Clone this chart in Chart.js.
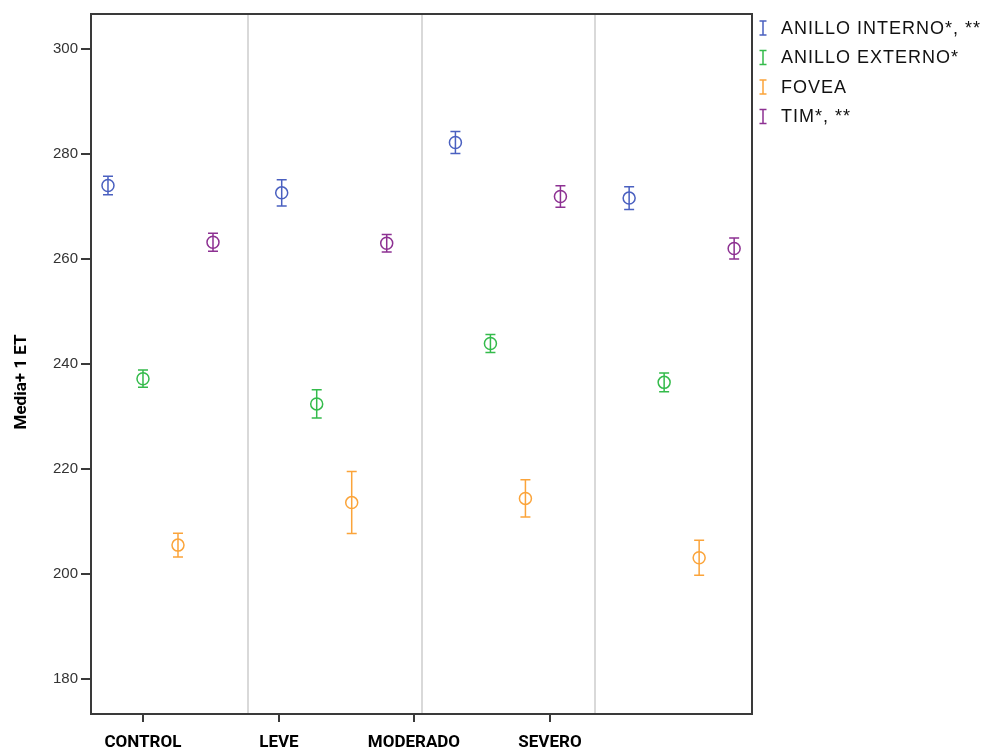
<!DOCTYPE html>
<html>
<head>
<meta charset="utf-8">
<script src="https://cdn.jsdelivr.net/npm/chart.js@4.4.1/dist/chart.umd.min.js"></script>
<style>
html,body{margin:0;padding:0;background:#fff;}
#wrap{width:997px;height:753px;}
</style>
</head>
<body>
<div id="wrap"><canvas id="c" width="997" height="753"></canvas></div>
<script>
const categories = ["CONTROL", "LEVE", "MODERADO", "SEVERO"];
const seriesNames = ["ANILLO INTERNO*, **", "ANILLO EXTERNO*", "FOVEA", "TIM*, **"];
const seriesColors = ["#4a60c0", "#34bb4b", "#fba43a", "#8d3192"];
const anilloInternoMean = [274.0, 272.6, 282.2, 271.6];
const anilloInternoSE   = [1.75, 2.5, 2.1, 2.15];
const anilloExternoMean = [237.2, 232.4, 243.9, 236.5];
const anilloExternoSE   = [1.65, 2.7, 1.7, 1.8];
const foveaMean = [205.5, 213.6, 214.4, 203.1];
const foveaSE   = [2.25, 5.9, 3.55, 3.35];
const timMean = [263.2, 263.0, 271.9, 262.0];
const timSE   = [1.7, 1.65, 2.05, 2.0];
const yTicks = [180, 200, 220, 240, 260, 280, 300];

const means = [anilloInternoMean, anilloExternoMean, foveaMean, timMean];
const ses = [anilloInternoSE, anilloExternoSE, foveaSE, timSE];

// layout (cluster offsets, axis range, label positions)
const clusterStep = 0.2015;
const xMin = -0.404, xMax = 3.401;
const labelPos = [-0.105, 0.678, 1.455, 2.238];
const condBold = 'Roboto, "Liberation Sans", Arial, sans-serif';

const datasets = seriesNames.map((name, j) => ({
  label: name,
  data: categories.map((c, i) => ({x: i + (j - 1.5) * clusterStep - 0.004, y: means[j][i], se: ses[j][i]})),
  borderColor: seriesColors[j],
  backgroundColor: 'rgba(0,0,0,0)',
  pointRadius: 6,
  pointHoverRadius: 6,
  pointBorderWidth: 1.5,
  showLine: false
}));

const decor = {
  id: 'decor',
  beforeDatasetsDraw(chart) {
    const {ctx, chartArea: a, scales: {x}} = chart;
    ctx.save();
    ctx.strokeStyle = '#d9d9d9';
    ctx.lineWidth = 2;
    for (let i = 0; i < categories.length - 1; i++) {
      const px = Math.round(x.getPixelForValue(i + 0.5));
      ctx.beginPath(); ctx.moveTo(px, a.top); ctx.lineTo(px, a.bottom); ctx.stroke();
    }
    ctx.restore();
  },
  afterDatasetsDraw(chart) {
    const {ctx, scales: {x, y}} = chart;
    ctx.save();
    chart.data.datasets.forEach(ds => {
      ctx.strokeStyle = ds.borderColor;
      ctx.lineWidth = 1.5;
      ds.data.forEach(p => {
        const px = x.getPixelForValue(p.x);
        const hi = y.getPixelForValue(p.y + p.se);
        const lo = y.getPixelForValue(p.y - p.se);
        ctx.beginPath();
        ctx.moveTo(px, hi); ctx.lineTo(px, lo);
        ctx.moveTo(px - 5, hi); ctx.lineTo(px + 5, hi);
        ctx.moveTo(px - 5, lo); ctx.lineTo(px + 5, lo);
        ctx.stroke();
      });
    });
    ctx.restore();
  },
  afterDraw(chart) {
    const {ctx, chartArea: a} = chart;
    ctx.save();
    ctx.strokeStyle = '#3a3a3a';
    ctx.lineWidth = 2;
    ctx.strokeRect(a.left, a.top, a.right - a.left, a.bottom - a.top);
    ctx.fillStyle = '#000';
    ctx.font = 'bold 17px ' + condBold;
    ctx.textAlign = 'center';
    ctx.textBaseline = 'middle';
    ctx.translate(22, 382);
    ctx.rotate(-Math.PI / 2);
    ctx.fillText('Media+ 1 ET', 0, 0);
    ctx.restore();
    ctx.save();
    ctx.font = '18px "Liberation Sans", Arial, sans-serif';
    try { ctx.letterSpacing = '1px'; } catch (e) {}
    ctx.textAlign = 'left';
    ctx.textBaseline = 'middle';
    seriesNames.forEach((n, j) => {
      const cy = 28 + j * 29.5;
      const ix = 763;
      ctx.strokeStyle = seriesColors[j];
      ctx.lineWidth = 1.5;
      ctx.beginPath();
      ctx.moveTo(ix, cy - 7); ctx.lineTo(ix, cy + 7);
      ctx.moveTo(ix - 3.5, cy - 7); ctx.lineTo(ix + 3.5, cy - 7);
      ctx.moveTo(ix - 3.5, cy + 7); ctx.lineTo(ix + 3.5, cy + 7);
      ctx.stroke();
      ctx.fillStyle = '#111';
      ctx.fillText(n, 781, cy + 1);
    });
    ctx.restore();
  }
};

new Chart(document.getElementById('c'), {
  type: 'scatter',
  data: {datasets},
  options: {
    responsive: false,
    animation: false,
    layout: {padding: {top: 14, right: 245, left: 0, bottom: 0}},
    plugins: {legend: {display: false}, tooltip: {enabled: false}},
    scales: {
      x: {
        type: 'linear',
        min: xMin, max: xMax,
        afterBuildTicks(s) { s.ticks = labelPos.map(v => ({value: v})); },
        afterFit(s) { s.height = 39; },
        grid: {drawOnChartArea: false, color: '#3a3a3a', lineWidth: 2, tickLength: 8},
        border: {display: true, color: '#3a3a3a', width: 2},
        ticks: {
          autoSkip: false, maxRotation: 0, padding: 11,
          color: '#000',
          font: {family: condBold, size: 17, weight: 'bold'},
          callback: (v, i) => categories[i]
        }
      },
      y: {
        min: 173.333, max: 306.667,
        afterBuildTicks(s) { s.ticks = yTicks.map(v => ({value: v})); },
        afterFit(s) { s.width = 91; },
        grid: {drawOnChartArea: false, color: '#3a3a3a', lineWidth: 2, tickLength: 10},
        border: {display: true, color: '#3a3a3a', width: 2},
        ticks: {
          padding: 3,
          color: '#333',
          font: {family: '"Liberation Sans", Arial, sans-serif', size: 15},
          callback: v => String(v)
        }
      }
    }
  },
  plugins: [decor]
});
</script>
</body>
</html>
